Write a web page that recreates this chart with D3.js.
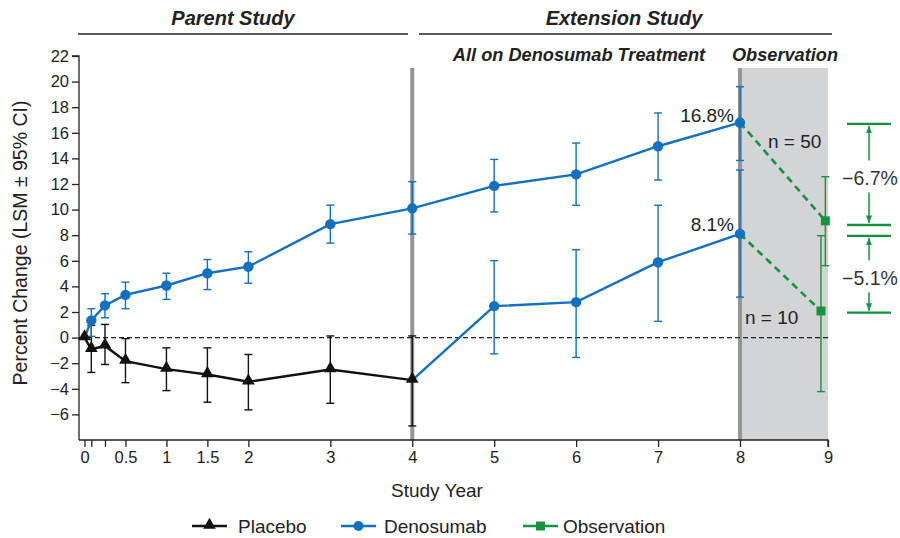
<!DOCTYPE html>
<html><head><meta charset="utf-8">
<script src="https://cdn.jsdelivr.net/npm/d3@7"></script>
<style>body{margin:0;background:#fff}svg{display:block;font-family:"Liberation Sans",Arial,sans-serif}</style>
</head><body><svg id="c" width="900" height="538"></svg>
<script>
// ---- data ----
const xTicks = [0, 1/12, 0.25, 0.5, 1, 1.5, 2, 3, 4, 5, 6, 7, 8, 9];
const xTickLabels = {0:"0",0.5:"0.5",1:"1",1.5:"1.5",2:"2",3:"3",4:"4",5:"5",6:"6",7:"7",8:"8",9:"9"};
const yTicks = [-6,-4,-2,0,2,4,6,8,10,12,14,16,18,20,22];

const placeboX  = [0, 1/12, 0.25, 0.5, 1, 1.5, 2, 3, 4];
const placeboY  = [0, -0.91, -0.65, -1.84, -2.46, -2.88, -3.45, -2.49, -3.32];
const placeboLo = [null, -2.72, -2.10, -3.52, -4.14, -5.05, -5.65, -5.13, -6.90];
const placeboHi = [null, 0.95, 1.03, -0.08, -0.80, -0.80, -1.32, 0.13, 0.13];

const denoX  = [0, 1/12, 0.25, 0.5, 1, 1.5, 2, 3, 4, 5, 6, 7, 8];
const denoY  = [0, 1.34, 2.52, 3.34, 4.07, 5.03, 5.54, 8.86, 10.1, 11.85, 12.75, 14.95, 16.8];
const denoLo = [null, 0.10, 1.55, 2.26, 2.98, 3.75, 4.25, 7.38, 8.09, 9.82, 10.34, 12.31, 13.84];
const denoHi = [null, 2.26, 3.43, 4.33, 5.03, 6.10, 6.71, 10.35, 12.18, 13.92, 15.20, 17.55, 19.6];

const crossX  = [4, 5, 6, 7, 8];
const crossY  = [-3.32, 2.46, 2.77, 5.89, 8.1];
const crossLo = [null, -1.27, -1.55, 1.27, 3.16];
const crossHi = [null, 6.01, 6.87, 10.34, 13.09];

const obsX  = [8.97, 8.92];
const obsY  = [9.12, 2.08];
const obsLo = [5.62, -4.22];
const obsHi = [12.57, 7.96];
const obsFrom = [16.8, 8.1];
const bracketTop = [16.7, 7.95];
const bracketBottom = [8.8, 1.95];
const diffLabels = ["\u22126.7%", "\u22125.1%"];
const endLabels = ["16.8%", "8.1%"];
const nLabels = ["n = 50", "n = 10"];

// ---- setup ----
const BLUE = "#1170bf", GREEN = "#13923f", BLACK = "#111";
const FONT = "Liberation Sans, Arial, sans-serif";
const svg = d3.select("#c");
const x = d3.scaleLinear().domain([0, 8, 9]).range([84.5, 740, 828]);
const y = d3.scaleLinear().domain([-8, 22]).range([440, 56]);
const axL = 79, axB = 440, topShade = 68;

// shaded observation region
svg.append("rect").attr("x", x(8)).attr("y", topShade).attr("width", x(9) - x(8)).attr("height", axB - topShade)
  .attr("fill", "#d3d4d6");
// gray vertical lines
[4, 8].forEach(v => svg.append("line").attr("x1", x(v)).attr("x2", x(v)).attr("y1", topShade).attr("y2", axB)
  .attr("stroke", "#959595").attr("stroke-width", 4));

// zero line
svg.append("line").attr("x1", axL).attr("x2", x(9)).attr("y1", y(0)).attr("y2", y(0))
  .attr("stroke", "#222").attr("stroke-width", 1.3).attr("stroke-dasharray", "5,3");

// axes
const yAxis = d3.axisLeft(y).tickValues(yTicks).tickSize(7).tickPadding(3).tickFormat(d => d < 0 ? "\u2212" + Math.abs(d) : d);
const gy = svg.append("g").attr("transform", `translate(${axL},0)`).call(yAxis);
gy.select(".domain").attr("d", `M-7,${y(22)}H0V${axB}`).attr("stroke", "#222").attr("stroke-width", 1.3);
gy.selectAll(".tick line").attr("stroke", "#222").attr("stroke-width", 1.3);
gy.selectAll("text").attr("font-size", 16.5).attr("fill", "#222").attr("font-family", FONT);

const xAxis = d3.axisBottom(x).tickValues(xTicks).tickSize(7).tickPadding(4).tickFormat(d => xTickLabels[d] || "");
const gx = svg.append("g").attr("transform", `translate(0,${axB})`).call(xAxis);
gx.select(".domain").attr("d", `M${axL},0H${x(9)}V7`).attr("stroke", "#222").attr("stroke-width", 1.3);
gx.selectAll(".tick line").attr("stroke", "#222").attr("stroke-width", 1.3);
gx.selectAll("text").attr("font-size", 16.5).attr("fill", "#222").attr("font-family", FONT);

// axis titles
svg.append("text").attr("x", 437).attr("y", 497).attr("text-anchor", "middle").attr("font-size", 19).attr("fill", "#222").text("Study Year");
svg.append("text").attr("transform", `translate(27,${243}) rotate(-90)`).attr("text-anchor", "middle").attr("font-size", 19.5).attr("fill", "#222").text("Percent Change (LSM \u00b1 95% CI)");

// headers
const hdr = (t, cx, cy, fs) => svg.append("text").attr("x", cx).attr("y", cy).attr("text-anchor", "middle")
  .attr("font-size", fs).attr("font-weight", "bold").attr("font-style", "italic").attr("fill", "#222").text(t);
hdr("Parent Study", 233, 25, 20);
hdr("Extension Study", 624, 25, 20);
hdr("All on Denosumab Treatment", 579, 61, 18.2);
hdr("Observation", 785, 61, 18.2);
svg.append("line").attr("x1", 78).attr("x2", 408).attr("y1", 34).attr("y2", 34).attr("stroke", "#222").attr("stroke-width", 1.6);
svg.append("line").attr("x1", 419).attr("x2", 832).attr("y1", 34).attr("y2", 34).attr("stroke", "#222").attr("stroke-width", 1.6);

// error bars
function errBars(xs, lo, hi, color, w) {
  const g = svg.append("g").attr("stroke", color).attr("stroke-width", 1.4).attr("fill", "none");
  xs.forEach((xv, i) => {
    if (lo[i] == null) return;
    const px = x(xv);
    g.append("line").attr("x1", px).attr("x2", px).attr("y1", y(lo[i])).attr("y2", y(hi[i]));
    g.append("line").attr("x1", px - w).attr("x2", px + w).attr("y1", y(lo[i])).attr("y2", y(lo[i]));
    g.append("line").attr("x1", px - w).attr("x2", px + w).attr("y1", y(hi[i])).attr("y2", y(hi[i]));
  });
}
errBars(placeboX, placeboLo, placeboHi, BLACK, 4);
errBars(denoX, denoLo, denoHi, BLUE, 4);
errBars(crossX, crossLo, crossHi, BLUE, 4);
errBars(obsX, obsLo, obsHi, GREEN, 4);

const line = d3.line().x(d => x(d[0])).y(d => y(d[1]));
// dashed green transitions
obsX.forEach((xv, i) => svg.append("path").attr("d", line([[8, obsFrom[i]], [xv, obsY[i]]]))
  .attr("stroke", GREEN).attr("stroke-width", 2.6).attr("stroke-dasharray", "7,5").attr("fill", "none"));

svg.append("path").attr("d", line(placeboX.map((v, i) => [v, placeboY[i]]))).attr("stroke", BLACK).attr("stroke-width", 2.4).attr("fill", "none");
svg.append("path").attr("d", line(denoX.map((v, i) => [v, denoY[i]]))).attr("stroke", BLUE).attr("stroke-width", 2.4).attr("fill", "none");
svg.append("path").attr("d", line(crossX.map((v, i) => [v, crossY[i]]))).attr("stroke", BLUE).attr("stroke-width", 2.4).attr("fill", "none");

// markers
const tri = d3.symbol().type(d3.symbolTriangle).size(70);
const sq = d3.symbol().type(d3.symbolSquare).size(80);
denoX.forEach((v, i) => { if (i > 0) svg.append("circle").attr("cx", x(v)).attr("cy", y(denoY[i])).attr("r", 5.2).attr("fill", BLUE); });
crossX.forEach((v, i) => { if (i > 0) svg.append("circle").attr("cx", x(v)).attr("cy", y(crossY[i])).attr("r", 5.2).attr("fill", BLUE); });
placeboX.forEach((v, i) => svg.append("path").attr("d", tri()).attr("transform", `translate(${x(v)},${y(placeboY[i]) - 1})`).attr("fill", BLACK));
obsX.forEach((v, i) => svg.append("path").attr("d", sq()).attr("transform", `translate(${x(v)},${y(obsY[i])})`).attr("fill", GREEN));

// value labels
endLabels.forEach((t, i) => svg.append("text").attr("x", x(8) - 6).attr("y", y(obsFrom[i]) - (i === 0 ? 1 : 3)).attr("text-anchor", "end")
  .attr("font-size", 19).attr("fill", "#222").text(t));
svg.append("text").attr("x", 768).attr("y", 147.5).attr("font-size", 19).attr("fill", "#222").text(nLabels[0]);
svg.append("text").attr("x", 745).attr("y", 323.5).attr("font-size", 19).attr("fill", "#222").text(nLabels[1]);

// right difference annotations
const ax0 = 847, ax1 = 891, axc = 869;
const defs = svg.append("defs");
defs.append("marker").attr("id", "arr").attr("viewBox", "0 0 10 10").attr("refX", 10).attr("refY", 5)
  .attr("markerWidth", 5).attr("markerHeight", 5).attr("orient", "auto-start-reverse")
  .append("path").attr("d", "M0,1L10,5L0,9Z").attr("fill", GREEN);
const ann = svg.append("g");
bracketTop.forEach((topV, i) => {
  const yT = y(i === 0 ? topV : bracketTop[i]), yB = y(bracketBottom[i]);
  const top = Math.min(yT, yB), bot = Math.max(yT, yB);
  ann.append("line").attr("x1", ax0).attr("x2", ax1).attr("y1", top).attr("y2", top).attr("stroke", GREEN).attr("stroke-width", 2.4);
  ann.append("line").attr("x1", ax0).attr("x2", ax1).attr("y1", bot).attr("y2", bot).attr("stroke", GREEN).attr("stroke-width", 2.4);
  const mid = (top + bot) / 2 + 4;
  ann.append("line").attr("x1", axc).attr("x2", axc).attr("y1", mid - 18).attr("y2", top + 2).attr("stroke", GREEN).attr("stroke-width", 1.5).attr("marker-end", "url(#arr)");
  ann.append("line").attr("x1", axc).attr("x2", axc).attr("y1", mid + 14).attr("y2", bot - 2).attr("stroke", GREEN).attr("stroke-width", 1.5).attr("marker-end", "url(#arr)");
  ann.append("text").attr("x", axc + 1).attr("y", mid + 7).attr("text-anchor", "middle").attr("font-size", 19.5).attr("fill", "#333").text(diffLabels[i]);
});

// legend
const legend = [
  {label: "Placebo", color: BLACK, shape: "tri", x0: 192, tx: 238},
  {label: "Denosumab", color: BLUE, shape: "circle", x0: 341, tx: 384},
  {label: "Observation", color: GREEN, shape: "sq", x0: 523, tx: 563}
];
const ly = 526;
legend.forEach(l => {
  svg.append("line").attr("x1", l.x0).attr("x2", l.x0 + 35).attr("y1", ly).attr("y2", ly).attr("stroke", l.color).attr("stroke-width", 2.4);
  if (l.shape === "tri") svg.append("path").attr("d", tri()).attr("transform", `translate(${l.x0 + 17.5},${ly - 1})`).attr("fill", l.color);
  if (l.shape === "circle") svg.append("circle").attr("cx", l.x0 + 17.5).attr("cy", ly).attr("r", 5).attr("fill", l.color);
  if (l.shape === "sq") svg.append("path").attr("d", sq()).attr("transform", `translate(${l.x0 + 17.5},${ly})`).attr("fill", l.color);
  svg.append("text").attr("x", l.tx).attr("y", ly + 7).attr("font-size", 19).attr("fill", "#222").text(l.label);
});
</script></body></html>
